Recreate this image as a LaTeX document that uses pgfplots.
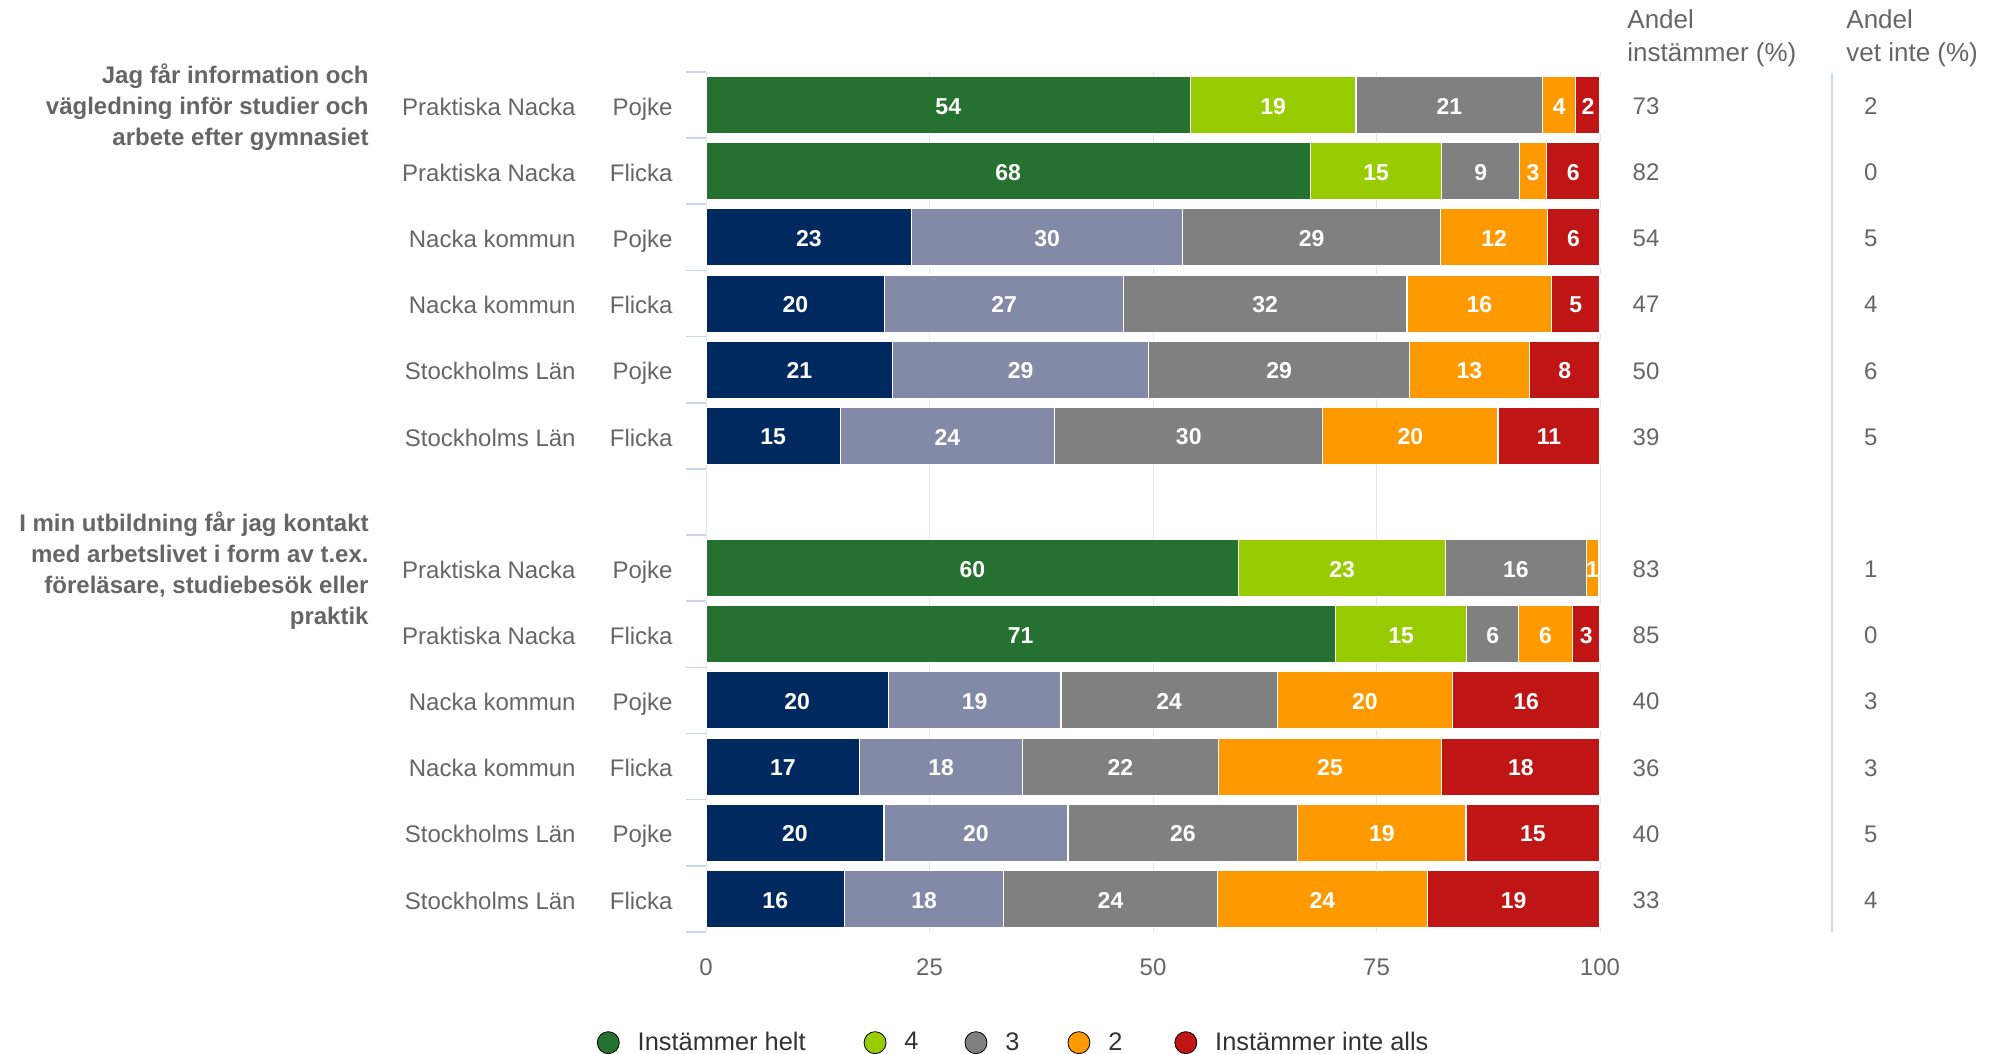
\documentclass[border=0pt]{standalone}
\usepackage{pgfplots}
\pgfplotsset{compat=1.18}
\usepackage{pgfplotstable}
\usepackage{fontspec}
\setmainfont{Liberation Sans}
\definecolor{cA}{HTML}{247130}
\definecolor{cB}{HTML}{99CC00}
\definecolor{cC}{HTML}{808080}
\definecolor{cD}{HTML}{FF9900}
\definecolor{cE}{HTML}{BF1515}
\definecolor{nA}{HTML}{002A5F}
\definecolor{nB}{HTML}{828AA8}
\definecolor{labgray}{HTML}{666666}
\definecolor{legtext}{HTML}{333333}
\definecolor{gridgray}{HTML}{E6E6E6}
\definecolor{tickblue}{HTML}{CCD6EB}
\newcommand\rowfont{\fontsize{12}{14.4}\selectfont}
\newcommand\barfont{\fontsize{11.5}{13.8}\selectfont\bfseries}
\newcommand\hdfont{\fontsize{13}{15.6}\selectfont}
\newcommand\legfont{\fontsize{12.7}{15.2}\selectfont}
\newcommand\grpfont{\fontsize{12}{15.5}\selectfont\bfseries}

% Praktiska Nacka rows (green scheme)
\pgfplotstableread{
y a b c d e la lb lc ld le
12 54.2 18.5 20.9 3.7 2.7 54 19 21 4 2
11 67.6 14.7 8.7 3.0 6.0 68 15 9 3 6
5 59.6 23.1 15.8 1.3 0.0 60 23 16 1 {}
4 70.4 14.7 5.8 6.0 3.1 71 15 6 6 3
}\pn
% Nacka kommun / Stockholms Län rows (blue scheme)
\pgfplotstableread{
y a b c d e la lb lc ld le
10 23.0 30.3 28.9 11.9 5.9 23 30 29 12 6
9 20.0 26.7 31.7 16.2 5.4 20 27 32 16 5
8 20.9 28.6 29.2 13.4 7.9 21 29 29 13 8
7 15.0 24.0 30.0 19.6 11.4 15 24 30 20 11
3 20.4 19.3 24.2 19.6 16.5 20 19 24 20 16
2 17.2 18.2 21.9 25.0 17.7 17 18 22 25 18
1 19.9 20.6 25.7 18.8 15.0 20 20 26 19 15
0 15.5 17.8 23.9 23.5 19.3 16 18 24 24 19
}\oth
% side columns
\pgfplotstableread{
y ins vet
12 73 2
11 82 0
10 54 5
9 47 4
8 50 6
7 39 5
5 83 1
4 85 0
3 40 3
2 36 3
1 40 5
0 33 4
}\side

\pgfplotsset{
  base/.style={at={(353pt,61pt)}, anchor=south west, scale only axis,
    width=447pt, height=430pt, xmin=0, xmax=100, ymin=-0.5, ymax=12.5, clip=false},
  seg/.style={fill=#1, draw=white, line width=0.6pt},
  lab/.style={draw=none, mark=none,
    point meta=explicit symbolic, nodes near coords={\pgfplotspointmeta},
    every node near coord/.append style={anchor=center, yshift=-0.6pt, font=\barfont, text=white, inner sep=0pt}},
}

\begin{document}
\begin{tikzpicture}
\path[use as bounding box] (0,0) rectangle (997pt,527pt);
\draw[tickblue, line width=0.5pt] (353pt,61pt) -- (353pt,491pt);

\begin{axis}[base, xbar stacked, bar width=28.6pt,
  axis line style={draw=none},
  xtick={0,25,50,75,100}, xticklabels={0,25,50,75,100},
  xmajorgrids, major grid style={gridgray, line width=0.5pt},
  xtick style={draw=none}, ytick style={draw=none},
  xticklabel style={anchor=center, yshift=-17.6pt, font=\rowfont, text=labgray},
  ytick={0,1,2,3,4,5,7,8,9,10,11,12},
  yticklabels={
    {\makebox[100pt][r]{Stockholms Län}\makebox[48.5pt][r]{Flicka}},
    {\makebox[100pt][r]{Stockholms Län}\makebox[48.5pt][r]{Pojke}},
    {\makebox[100pt][r]{Nacka kommun}\makebox[48.5pt][r]{Flicka}},
    {\makebox[100pt][r]{Nacka kommun}\makebox[48.5pt][r]{Pojke}},
    {\makebox[100pt][r]{Praktiska Nacka}\makebox[48.5pt][r]{Flicka}},
    {\makebox[100pt][r]{Praktiska Nacka}\makebox[48.5pt][r]{Pojke}},
    {\makebox[100pt][r]{Stockholms Län}\makebox[48.5pt][r]{Flicka}},
    {\makebox[100pt][r]{Stockholms Län}\makebox[48.5pt][r]{Pojke}},
    {\makebox[100pt][r]{Nacka kommun}\makebox[48.5pt][r]{Flicka}},
    {\makebox[100pt][r]{Nacka kommun}\makebox[48.5pt][r]{Pojke}},
    {\makebox[100pt][r]{Praktiska Nacka}\makebox[48.5pt][r]{Flicka}},
    {\makebox[100pt][r]{Praktiska Nacka}\makebox[48.5pt][r]{Pojke}}},
  yticklabel style={anchor=base east, inner sep=0pt, xshift=-16.5pt, yshift=-5.1pt,
    font=\rowfont, text=labgray},
]
\addplot[seg=nA] table[x=a,y=y]{\oth};
\addplot[seg=nB] table[x=b,y=y]{\oth};
\addplot[seg=cC] table[x=c,y=y]{\oth};
\addplot[seg=cD] table[x=d,y=y]{\oth};
\addplot[seg=cE] table[x=e,y=y]{\oth};
\end{axis}

\begin{axis}[base, xbar stacked, bar width=28.6pt, hide axis]
\addplot[seg=cA] table[x=a,y=y]{\pn};
\addplot[seg=cB] table[x=b,y=y]{\pn};
\addplot[seg=cC] table[x=c,y=y]{\pn};
\addplot[seg=cD] table[x=d,y=y]{\pn};
\addplot[seg=cE] table[x=e,y=y]{\pn};
\end{axis}

\begin{axis}[base, hide axis,
  legend columns=5,
  legend image code/.code={\fill[#1] (0pt,0pt) circle (5.5pt);},
  legend style={at={(-0.1225,-0.1287)}, anchor=west, draw=none, fill=none,
    inner sep=0pt, font=\legfont, text=legtext, legend cell align=left,
    /tikz/every odd column/.append style={column sep=7pt},
    /tikz/column 2/.style={column sep=27pt},
    /tikz/column 4/.style={column sep=21pt},
    /tikz/column 6/.style={column sep=22pt},
    /tikz/column 8/.style={column sep=24pt}},
]
\addlegendimage{fill=cA}\addlegendentry{Instämmer helt}
\addlegendimage{fill=cB}\addlegendentry{4}
\addlegendimage{fill=cC}\addlegendentry{3}
\addlegendimage{fill=cD}\addlegendentry{2}
\addlegendimage{fill=cE}\addlegendentry{Instämmer inte alls}
\addplot[lab] table[x expr=\thisrow{a}/2, y=y, meta=la]{\pn};
\addplot[lab] table[x expr=\thisrow{a}+\thisrow{b}/2, y=y, meta=lb]{\pn};
\addplot[lab] table[x expr=\thisrow{a}+\thisrow{b}+\thisrow{c}/2, y=y, meta=lc]{\pn};
\addplot[lab] table[x expr=\thisrow{a}+\thisrow{b}+\thisrow{c}+\thisrow{d}/2, y=y, meta=ld]{\pn};
\addplot[lab] table[x expr=\thisrow{a}+\thisrow{b}+\thisrow{c}+\thisrow{d}+\thisrow{e}/2, y=y, meta=le]{\pn};
\addplot[lab] table[x expr=\thisrow{a}/2, y=y, meta=la]{\oth};
\addplot[lab] table[x expr=\thisrow{a}+\thisrow{b}/2, y=y, meta=lb]{\oth};
\addplot[lab] table[x expr=\thisrow{a}+\thisrow{b}+\thisrow{c}/2, y=y, meta=lc]{\oth};
\addplot[lab] table[x expr=\thisrow{a}+\thisrow{b}+\thisrow{c}+\thisrow{d}/2, y=y, meta=ld]{\oth};
\addplot[lab] table[x expr=\thisrow{a}+\thisrow{b}+\thisrow{c}+\thisrow{d}+\thisrow{e}/2, y=y, meta=le]{\oth};
\addplot[lab, every node near coord/.append style={text=labgray, font=\rowfont}] table[x expr=105.15, y=y, meta=ins]{\side};
\addplot[lab, every node near coord/.append style={text=labgray, font=\rowfont}] table[x expr=130.3, y=y, meta=vet]{\side};
\end{axis}

% category tick marks between rows
\foreach \i in {0,...,13} \draw[tickblue, line width=0.8pt] (343pt,61pt+\i*33.0769pt) -- (353pt,61pt+\i*33.0769pt);
% separator before "vet inte" column
\draw[tickblue, line width=0.8pt] (916pt,61pt) -- (916pt,490.5pt);
% column headers
\node[anchor=base west, inner sep=0pt, font=\hdfont, text=labgray] at (813.5pt,512.5pt) {Andel};
\node[anchor=base west, inner sep=0pt, font=\hdfont, text=labgray] at (813.5pt,496pt) {instämmer (\%)};
\node[anchor=base west, inner sep=0pt, font=\hdfont, text=labgray] at (923pt,512.5pt) {Andel};
\node[anchor=base west, inner sep=0pt, font=\hdfont, text=labgray] at (923pt,496pt) {vet inte (\%)};
% group labels
\node[anchor=east, align=right, inner sep=0pt, font=\grpfont, text=labgray] at (184.5pt,473.2pt)
  {Jag får information och\\vägledning inför studier och\\arbete efter gymnasiet};
\node[anchor=east, align=right, inner sep=0pt, font=\grpfont, text=labgray] at (184.5pt,241.9pt)
  {I min utbildning får jag kontakt\\med arbetslivet i form av t.ex.\\föreläsare, studiebesök eller\\praktik};
\end{tikzpicture}
\end{document}
